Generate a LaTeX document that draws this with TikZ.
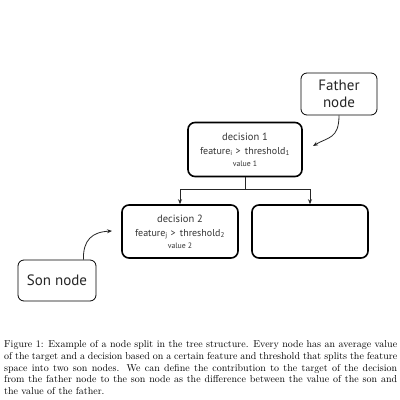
\documentclass[tikz,border=0pt]{standalone}
\usepackage{fontspec}
\newfontfamily\diagfont{PT Sans}
\usetikzlibrary{arrows.meta}
\begin{document}
\begin{tikzpicture}[x=1pt,y=-1pt]
\tikzstyle{arrow}=[draw,-{Stealth[length=5pt,width=4pt]},line width=0.8pt,color=black!85]
\tikzstyle{line}=[draw,line width=0.8pt,color=black!85]
\tikzstyle{tree}=[draw,rounded corners=7pt,line width=1.6pt,minimum width=114pt,minimum height=54pt,inner sep=0pt,align=center,font=\diagfont,text=black!80]
\tikzstyle{label}=[draw,rounded corners=6pt,line width=0.8pt,inner sep=0pt,align=center,font=\diagfont\fontsize{15}{17}\selectfont,text=black!85]
\useasboundingbox[fill=white](0,0)rectangle(400,400);
% boxes of the tree
\node[tree](dad)at(245,149.5){\fontsize{10.5}{11}\selectfont decision 1\\[2pt]
  \fontsize{10}{11}\selectfont feature\textsubscript{i} >\, threshold\textsubscript{1}\\[0pt]
  \fontsize{7.8}{8}\selectfont value 1};
\node[tree,minimum width=116pt,minimum height=53pt](left)at(180,231.5){\fontsize{10.5}{11}\selectfont decision 2\\[2pt]
  \fontsize{10}{11}\selectfont feature\textsubscript{j} >\, threshold\textsubscript{2}\\[0pt]
  \fontsize{7.8}{8}\selectfont value 2};
\node[tree,minimum width=116pt,minimum height=53pt](right)at(310,231.5){};
% labels
\node[label,minimum width=76pt,minimum height=42pt](father)at(339,94){Father\\node};
\node[label,minimum width=78pt,minimum height=41pt](son)at(57,280.5){Son node};
% connectors
\coordinate(split)at(245,189);
\coordinate(fathertip)at(313,146);
\coordinate(sontip)at(112,231);
\path[line](dad.south)--(split);
\path[arrow](split)-|(left.north);
\path[arrow](split)-|(right.north);
\path[arrow](father.south)..controls(339,139)and(328,137)..(fathertip);
\path[arrow]([xshift=-13pt]son.north east)..controls(83,240)and(92,232)..(sontip);
% caption
\node[anchor=north west,inner sep=0pt,text width=393pt,align=justify,font=\fontsize{10}{11.7}\selectfont]
  (caption)at(4,340.5){Figure 1: Example of a node split in the tree structure. Every node has an average value\linebreak
  of the target and a decision based on a certain feature and threshold that splits the feature\linebreak
  space into two son nodes. We can define the contribution to the target of the decision\linebreak
  from the father node to the son node as the difference between the value of the son and\linebreak
  the value of the father.};
\end{tikzpicture}
\end{document}
